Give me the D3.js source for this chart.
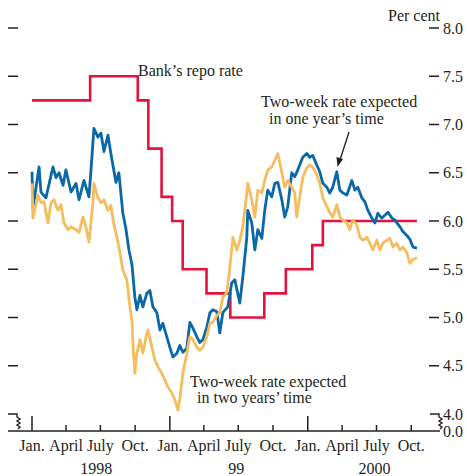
<!DOCTYPE html>
<html>
<head>
<meta charset="utf-8">
<script src="https://cdn.jsdelivr.net/npm/d3@7"></script>
<style>
  body { margin: 0; background: #fff; }
  svg text { font-family: "Liberation Serif", "Times New Roman", serif; font-size: 16px; fill: #231f20; }
</style>
</head>
<body>
<svg id="chart" width="467" height="476"></svg>
<script>
// repo rate changes (date, per cent)
const repoDates = ["1998-01-01", "1998-06-04", "1998-10-08", "1998-11-05", "1998-12-10", "1999-01-07",
  "1999-02-04", "1999-04-08", "1999-06-10", "1999-09-08", "1999-11-04", "2000-01-13", "2000-02-10", "2000-10-16"];
const repoRates = [7.25, 7.5, 7.25, 6.75, 6.25, 6.0, 5.5, 5.25, 5.0, 5.25, 5.5, 5.75, 6.0, 6.0];

// two-week rate expected in one year's time (decimal year, per cent)
const oneYearT = [1998.000, 1998.007, 1998.051, 1998.065, 1998.101, 1998.152, 1998.174, 1998.196, 1998.225, 1998.246,
  1998.283, 1998.319, 1998.341, 1998.377, 1998.413, 1998.428, 1998.449, 1998.478, 1998.500, 1998.522,
  1998.551, 1998.572, 1998.609, 1998.630, 1998.659, 1998.681, 1998.703, 1998.725, 1998.746, 1998.761,
  1998.783, 1998.804, 1998.833, 1998.855, 1998.877, 1998.906, 1998.928, 1998.949, 1998.978, 1999.000,
  1999.022, 1999.051, 1999.072, 1999.094, 1999.123, 1999.145, 1999.167, 1999.196, 1999.217, 1999.239,
  1999.268, 1999.290, 1999.312, 1999.341, 1999.362, 1999.384, 1999.420, 1999.449, 1999.471, 1999.507,
  1999.529, 1999.558, 1999.565, 1999.594, 1999.616, 1999.638, 1999.667, 1999.688, 1999.710, 1999.739,
  1999.761, 1999.783, 1999.812, 1999.833, 1999.855, 1999.884, 1999.906, 1999.928, 1999.964, 1999.993,
  2000.014, 2000.036, 2000.065, 2000.087, 2000.109, 2000.138, 2000.159, 2000.181, 2000.210, 2000.232,
  2000.254, 2000.283, 2000.319, 2000.341, 2000.362, 2000.391, 2000.413, 2000.435, 2000.464, 2000.486,
  2000.507, 2000.536, 2000.558, 2000.580, 2000.609, 2000.630, 2000.667, 2000.688, 2000.717, 2000.739,
  2000.761, 2000.790];
const oneYearV = [6.51, 6.13, 6.56, 6.30, 6.24, 6.56, 6.45, 6.50, 6.37, 6.53,
  6.30, 6.39, 6.22, 6.42, 6.25, 6.53, 6.96, 6.87, 6.91, 6.72,
  6.89, 6.70, 6.40, 6.50, 6.08, 5.92, 5.70, 5.55, 5.21, 5.08,
  5.23, 5.11, 5.25, 5.28, 5.11, 5.05, 4.87, 4.94, 4.80, 4.69,
  4.59, 4.63, 4.71, 4.64, 4.68, 4.95, 4.89, 4.80, 4.74, 4.77,
  4.90, 5.05, 5.08, 5.06, 4.84, 5.05, 5.11, 5.36, 5.39, 5.15,
  5.42, 5.83, 6.11, 5.98, 5.70, 5.91, 5.82, 6.11, 6.32, 6.25,
  6.39, 6.40, 6.22, 6.04, 6.15, 6.50, 6.46, 6.53, 6.66, 6.70,
  6.66, 6.68, 6.58, 6.51, 6.39, 6.35, 6.29, 6.35, 6.51, 6.32,
  6.29, 6.27, 6.42, 6.32, 6.35, 6.24, 6.20, 6.11, 6.03, 5.98,
  6.08, 6.03, 6.06, 6.09, 6.03, 6.01, 5.94, 5.89, 5.85, 5.81,
  5.73, 5.72];

// two-week rate expected in two years' time
const twoYearT = [1998.000, 1998.007, 1998.043, 1998.065, 1998.087, 1998.116, 1998.138, 1998.159, 1998.188, 1998.210,
  1998.232, 1998.261, 1998.283, 1998.319, 1998.341, 1998.370, 1998.391, 1998.413, 1998.442, 1998.449,
  1998.478, 1998.500, 1998.522, 1998.551, 1998.572, 1998.594, 1998.616, 1998.638, 1998.659, 1998.688,
  1998.710, 1998.725, 1998.732, 1998.746, 1998.761, 1998.783, 1998.804, 1998.833, 1998.841, 1998.870,
  1998.891, 1998.913, 1998.942, 1998.964, 1998.986, 1999.014, 1999.036, 1999.058, 1999.072, 1999.094,
  1999.123, 1999.145, 1999.167, 1999.196, 1999.217, 1999.239, 1999.268, 1999.290, 1999.312, 1999.341,
  1999.362, 1999.384, 1999.413, 1999.435, 1999.457, 1999.486, 1999.507, 1999.529, 1999.558, 1999.565,
  1999.594, 1999.616, 1999.638, 1999.667, 1999.688, 1999.710, 1999.739, 1999.761, 1999.783, 1999.812,
  1999.833, 1999.855, 1999.884, 1999.906, 1999.920, 1999.942, 1999.964, 1999.993, 2000.014, 2000.036,
  2000.065, 2000.087, 2000.109, 2000.138, 2000.159, 2000.181, 2000.210, 2000.232, 2000.254, 2000.283,
  2000.304, 2000.326, 2000.355, 2000.377, 2000.399, 2000.428, 2000.449, 2000.471, 2000.500, 2000.522,
  2000.543, 2000.572, 2000.594, 2000.616, 2000.645, 2000.667, 2000.688, 2000.717, 2000.739, 2000.761,
  2000.790];
const twoYearV = [6.39, 6.03, 6.27, 6.19, 6.20, 5.98, 6.19, 6.22, 6.11, 6.17,
  5.98, 5.91, 5.94, 5.91, 5.88, 6.04, 5.94, 5.78, 6.19, 6.39,
  6.24, 6.19, 6.22, 6.11, 6.16, 5.96, 5.83, 5.67, 5.49, 5.39,
  5.11, 4.97, 4.74, 4.42, 4.63, 4.77, 4.63, 4.84, 4.87, 4.69,
  4.56, 4.49, 4.42, 4.35, 4.28, 4.22, 4.15, 4.04, 4.15, 4.42,
  4.63, 4.80, 4.77, 4.69, 4.66, 4.69, 4.80, 4.94, 4.95, 5.02,
  5.05, 5.21, 5.26, 5.52, 5.83, 5.70, 5.80, 5.94, 6.29, 6.39,
  6.22, 6.04, 6.32, 6.29, 6.42, 6.53, 6.56, 6.63, 6.70, 6.50,
  6.35, 6.42, 6.35, 6.29, 6.04, 6.25, 6.45, 6.55, 6.58, 6.56,
  6.48, 6.39, 6.24, 6.15, 6.09, 6.04, 6.17, 6.04, 6.01, 5.98,
  5.91, 6.01, 5.96, 5.83, 5.80, 5.83, 5.77, 5.70, 5.80, 5.70,
  5.77, 5.80, 5.82, 5.73, 5.77, 5.70, 5.73, 5.67, 5.56, 5.60,
  5.62];

const yTicks = [4.5, 5.0, 5.5, 6.0, 6.5, 7.0, 7.5, 8.0];
const monthLabels = ["Jan.", "April", "July", "Oct."];
const yearLabels = ["1998", "99", "2000"];

const svg = d3.select("#chart");

function yearToDate(t) {
  const y = Math.floor(t);
  const a = new Date(y, 0, 1), b = new Date(y + 1, 0, 1);
  return new Date(+a + (t - y) * (b - a));
}

const x = d3.scaleTime()
  .domain([new Date(1998, 0, 1), new Date(2001, 0, 1)])
  .range([32, 446]);
const y = d3.scaleLinear().domain([4, 8]).range([414, 28]);

const axisY = 431;
const ink = "#231f20";

// y ticks on both sides
svg.selectAll(".ltick").data(yTicks).enter().append("line")
  .attr("x1", 8).attr("x2", 18)
  .attr("y1", d => y(d)).attr("y2", d => y(d))
  .attr("stroke", ink).attr("stroke-width", 1.5);
svg.selectAll(".rtick").data(yTicks).enter().append("line")
  .attr("x1", 429).attr("x2", 439)
  .attr("y1", d => y(d)).attr("y2", d => y(d))
  .attr("stroke", ink).attr("stroke-width", 1.5);
svg.selectAll(".ylab").data(yTicks).enter().append("text")
  .attr("x", 443).attr("y", d => y(d) + 5.5)
  .text(d => d.toFixed(1));

svg.append("text").attr("x", 440).attr("y", 21)
  .attr("text-anchor", "end").text("Per cent");

// axis breaks
const brk = (x0, x1) => `M${x0},${y(4)}H${x1}l0,3l3,2l-3,2l3,2l-3,2l3,2l-2,2`;
svg.append("path").attr("d", brk(8, 17)).attr("fill", "none").attr("stroke", ink).attr("stroke-width", 1.4);
svg.append("path").attr("d", brk(430, 439)).attr("fill", "none").attr("stroke", ink).attr("stroke-width", 1.4);
svg.append("text").attr("x", 443).attr("y", y(4) + 5.5).text("4.0");
svg.append("text").attr("x", 443).attr("y", axisY + 5.5).text("0.0");

// x axis
svg.append("line").attr("x1", 8).attr("x2", 440)
  .attr("y1", axisY).attr("y2", axisY)
  .attr("stroke", ink).attr("stroke-width", 1.5);

const quarters = d3.timeMonth.every(3).range(new Date(1998, 0, 1), new Date(2001, 0, 1));
svg.selectAll(".xtick").data(quarters).enter().append("line")
  .attr("x1", d => x(d)).attr("x2", d => x(d))
  .attr("y1", d => d.getMonth() === 0 ? axisY - 15 : axisY - 6)
  .attr("y2", axisY)
  .attr("stroke", ink).attr("stroke-width", 1.5);
svg.selectAll(".xlab").data(quarters).enter().append("text")
  .attr("x", d => x(d)).attr("y", 451)
  .attr("text-anchor", "middle")
  .text(d => monthLabels[d.getMonth() / 3]);
svg.selectAll(".yrlab").data(yearLabels).enter().append("text")
  .attr("x", (d, i) => x(new Date(1998 + i, 6, 1)) - (i === 0 ? 4 : 2))
  .attr("y", 474)
  .attr("text-anchor", "middle")
  .text(d => d);

// series
const repo = repoDates.map((d, i) => ({ date: new Date(d), v: repoRates[i] }));
const oneYear = oneYearT.map((t, i) => ({ date: yearToDate(t), v: oneYearV[i] }));
const twoYear = twoYearT.map((t, i) => ({ date: yearToDate(t), v: twoYearV[i] }));

const line = d3.line().x(d => x(d.date)).y(d => y(d.v));

svg.append("path").datum(repo)
  .attr("d", line.curve(d3.curveStepAfter))
  .attr("fill", "none").attr("stroke", "#e3123f").attr("stroke-width", 2.6);
line.curve(d3.curveLinear);
svg.append("path").datum(oneYear)
  .attr("d", line)
  .attr("fill", "none").attr("stroke", "#0a68a8").attr("stroke-width", 2.8)
  .attr("stroke-linejoin", "round");
svg.append("path").datum(twoYear)
  .attr("d", line)
  .attr("fill", "none").attr("stroke", "#f6bd5e").attr("stroke-width", 2.8)
  .attr("stroke-linejoin", "round");

// annotations
svg.append("text").attr("x", 138).attr("y", 76).text("Bank\u2019s repo rate");
svg.append("text").attr("x", 261).attr("y", 107).text("Two-week rate expected");
svg.append("text").attr("x", 269).attr("y", 124).text("in one year\u2019s time");
svg.append("text").attr("x", 190).attr("y", 387).text("Two-week rate expected");
svg.append("text").attr("x", 197).attr("y", 403).text("in two years\u2019 time");

svg.append("line").attr("x1", 349).attr("y1", 132).attr("x2", 340).attr("y2", 160)
  .attr("stroke", ink).attr("stroke-width", 1.3);
svg.append("path")
  .attr("d", "M337.5,167 L336.5,157 L343,159 Z")
  .attr("fill", ink);
</script>
</body>
</html>
